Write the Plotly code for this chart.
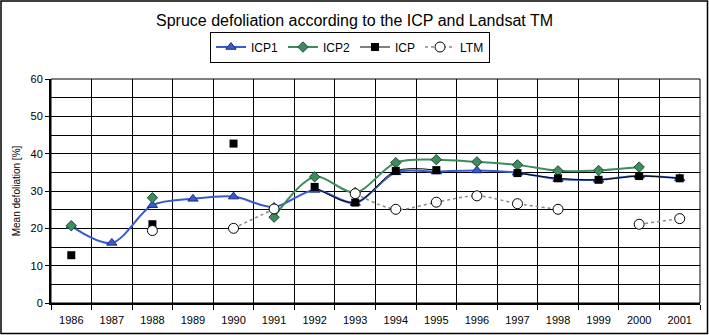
import plotly.graph_objects as go

years = ["1986", "1987", "1988", "1989", "1990", "1991", "1992", "1993",
         "1994", "1995", "1996", "1997", "1998", "1999", "2000", "2001"]
icp1 = [20.6, 16.1, 26.2, 27.9, 28.5, 25.7, 30.3, 26.8,
        35.0, 35.2, 35.5, 34.9, 33.2, 33.0, 34.1, 33.4]
icp2 = [20.7, None, 28.2, None, None, 23.0, 33.8, 29.6,
        37.6, 38.4, 37.8, 37.0, 35.4, 35.5, 36.4, None]
icp = [12.8, None, 21.1, None, 42.7, None, 31.1, 26.9,
       35.4, 35.6, None, 34.8, 33.4, 33.0, 34.0, 33.4]
ltm = [None, None, 19.4, None, 20.0, 25.2, None, 29.3,
       25.1, 27.0, 28.7, 26.6, 25.1, None, 21.1, 22.6]
y_ticks = [0, 10, 20, 30, 40, 50, 60]

xi = list(range(len(years)))
FONT = "Liberation Sans, Arial, sans-serif"

fig = go.Figure()
fig.add_trace(go.Scatter(
    x=xi, y=icp1, name="ICP1", mode="lines+markers",
    line=dict(color="#3a5bd0", width=2, shape="spline", smoothing=0.9),
    marker=dict(symbol="triangle-up", size=9, color="#3a5bd0",
                line=dict(color="#1c2a80", width=1))))
fig.add_trace(go.Scatter(
    x=xi, y=icp2, name="ICP2", mode="lines+markers",
    line=dict(color="#3d8c5e", width=2, shape="spline", smoothing=0.9),
    marker=dict(symbol="diamond", size=8, color="#3d8c5e",
                line=dict(color="#1e4d30", width=1))))
fig.add_trace(go.Scatter(
    x=xi, y=icp, name="ICP", mode="lines+markers",
    line=dict(color="black", width=1, shape="spline", smoothing=0.9),
    marker=dict(symbol="square", size=8, color="black")))
fig.add_trace(go.Scatter(
    x=xi, y=ltm, name="LTM", mode="lines+markers",
    line=dict(color="#888888", width=1.5, dash="dot", shape="spline", smoothing=0.9),
    marker=dict(symbol="circle", size=10, color="white",
                line=dict(color="black", width=1))))

W, H = 709, 335
L, R, T, B = 51, 9, 79, 32
pw, ph = W - L - R, H - T - B

def px_x(p):
    return (p - L) / pw

def px_y(p):
    return (H - B - p) / ph

fig.update_layout(
    width=W, height=H,
    margin=dict(l=L, r=R, t=T, b=B),
    paper_bgcolor="white", plot_bgcolor="white",
    font=dict(family=FONT, color="black", size=11),
    title=dict(text="Spruce defoliation according to the ICP and Landsat TM",
               x=0.5, xanchor="center", y=1 - 20 / H, yanchor="middle",
               font=dict(size=16, family=FONT, color="black")),
    showlegend=True,
    legend=dict(orientation="h", x=px_x(350), xanchor="center",
                y=px_y(47), yanchor="middle",
                bordercolor="black", borderwidth=1, bgcolor="white",
                font=dict(size=12, family=FONT), itemwidth=30,
                tracegroupgap=0),
    xaxis=dict(range=[-0.5, len(years) - 0.5], tickmode="array",
               tickvals=xi, ticktext=years, ticks="", showgrid=False,
               zeroline=False, showline=True, linecolor="black", linewidth=2,
               tickfont=dict(size=11, family=FONT), ticklabelstandoff=6,
               minor=dict(tickmode="array",
                          tickvals=[i - 0.5 for i in range(len(years) + 1)],
                          ticks="outside", ticklen=5, tickcolor="black",
                          showgrid=True, gridcolor="black", gridwidth=1),
               fixedrange=True),
    yaxis=dict(range=[0, 60], tickmode="array", tickvals=y_ticks,
               ticks="outside", ticklen=4, tickcolor="black",
               showgrid=True, gridcolor="black", gridwidth=1,
               zeroline=False, showline=True, linecolor="black", linewidth=2,
               tickfont=dict(size=11, family=FONT),
               minor=dict(dtick=5, showgrid=True, gridcolor="black", gridwidth=1),
               title=dict(text="Mean defoliation [%]", standoff=8,
                          font=dict(size=10, family=FONT)),
               fixedrange=True),
)

# plot-area border and outer chart border
fig.add_shape(type="rect", xref="paper", yref="paper", x0=0, x1=1, y0=0, y1=1,
              line=dict(color="black", width=1), layer="above")
fig.add_shape(type="rect", xref="paper", yref="paper",
              x0=px_x(1), x1=px_x(707.5), y0=px_y(333.5), y1=px_y(1),
              line=dict(color="black", width=1.5), layer="above")

fig.write_html("out.html")
